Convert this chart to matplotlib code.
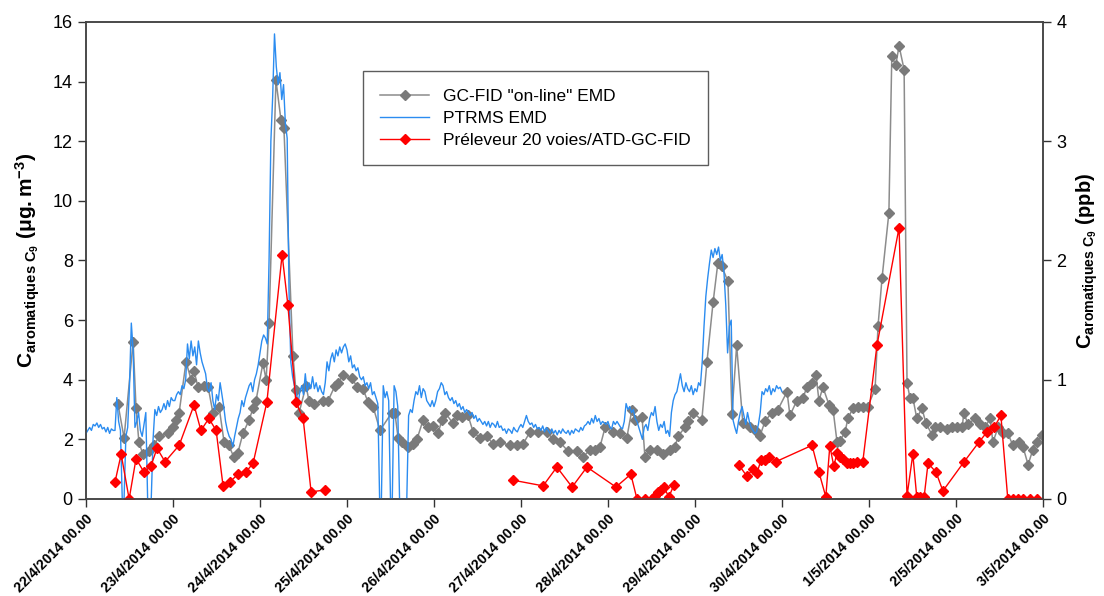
import numpy as np
import pandas as pd
from matplotlib import pyplot as plt

plt.rcParams['font.family'] = ['Liberation Sans', 'DejaVu Sans']
plt.rcParams['mathtext.fontset'] = 'custom'
plt.rcParams['mathtext.rm'] = 'Liberation Sans'
plt.rcParams['mathtext.bf'] = 'Liberation Sans:bold'
plt.rcParams['mathtext.it'] = 'Liberation Sans:italic'

# x axis: hours since 22/4/2014 00.00
tick_labels = ['22/4/2014 00.00', '23/4/2014 00.00', '24/4/2014 00.00', '25/4/2014 00.00',
               '26/4/2014 00.00', '27/4/2014 00.00', '28/4/2014 00.00', '29/4/2014 00.00',
               '30/4/2014 00.00', '1/5/2014 00.00', '2/5/2014 00.00', '3/5/2014 00.00']

# GC-FID "on-line" EMD (µg.m-3)
gc_hours = [8.8, 10.5, 13.0, 13.8, 14.6, 15.7, 17.4, 18.8, 20.1, 22.6, 24.0, 24.8, 25.7, 27.6, 29.0,
            29.8, 30.9, 32.6, 33.7, 35.0, 36.7, 38.1, 39.4, 40.8, 41.9, 43.3, 45.0, 46.1, 46.9, 48.8,
            49.7, 50.5, 52.4, 53.8, 54.6, 57.1, 57.9, 58.8, 60.7, 61.5, 62.9, 65.4, 66.8, 68.7, 69.5,
            70.9, 73.4, 74.8, 76.4, 77.8, 79.2, 81.1, 84.4, 85.2, 86.1, 87.2, 88.8, 90.2, 91.3, 93.0,
            94.3, 95.7, 97.1, 98.2, 99.0, 101.2, 102.3, 103.7, 105.4, 106.8, 108.7, 110.6, 112.3, 114.2,
            117.0, 118.9, 120.6, 122.5, 124.7, 127.2, 128.8, 130.8, 133.0, 135.4, 137.1, 139.0, 140.4,
            141.8, 143.2, 145.4, 147.3, 149.2, 150.6, 151.4, 153.4, 154.2, 155.6, 157.5, 159.2, 161.1,
            162.5, 163.3, 165.2, 166.1, 167.4, 169.9, 171.3, 173.0, 174.3, 175.4, 177.1, 178.2, 179.5,
            181.2, 183.2, 184.6, 185.9, 187.3, 189.2, 190.9, 193.4, 194.2, 196.1, 197.8, 198.9, 200.3,
            201.4, 202.2, 203.3, 205.0, 206.1, 207.2, 208.0, 209.4, 210.2, 211.6, 213.0, 214.3, 215.7,
            217.7, 218.5, 219.6, 221.5, 222.3, 223.4, 224.3, 225.7, 226.5, 227.3, 228.1, 229.2, 230.6,
            231.7, 233.4, 234.2, 235.6, 237.5, 238.9, 240.3, 241.7, 242.2, 243.3, 245.2, 246.6, 248.0,
            249.4, 250.2, 251.6, 253.0, 254.3, 255.7, 257.4, 258.5, 259.9, 261.2, 262.3, 263.7]
gc_values = [3.2, 2.05, 5.27, 3.05, 1.9, 1.5, 1.6, 1.8, 2.1, 2.2, 2.4, 2.65, 2.9, 4.6, 4.0,
             4.3, 3.75, 3.8, 3.75, 2.9, 3.1, 1.9, 1.8, 1.4, 1.55, 2.2, 2.65, 3.05, 3.3, 4.55,
             4.0, 5.9, 14.05, 12.7, 12.45, 4.8, 3.65, 2.9, 3.8, 3.3, 3.2, 3.3, 3.3, 3.8, 3.9,
             4.15, 4.05, 3.75, 3.7, 3.25, 3.1, 2.3, 2.9, 2.9, 2.05, 1.9, 1.75, 1.85, 2.0, 2.65,
             2.4, 2.45, 2.2, 2.65, 2.9, 2.55, 2.8, 2.75, 2.8, 2.25, 2.05, 2.1, 1.85, 1.9,
             1.8, 1.8, 1.85, 2.25, 2.25, 2.25, 2.0, 1.9, 1.6, 1.6, 1.4, 1.65, 1.65,
             1.75, 2.4, 2.25, 2.2, 2.05, 3.0, 2.65, 2.75, 1.4, 1.65, 1.65, 1.5, 1.65,
             1.75, 2.1, 2.4, 2.6, 2.9, 2.65, 4.6, 6.6, 7.9, 7.8, 7.3, 2.85, 5.15,
             2.55, 2.4, 2.3, 2.1, 2.6, 2.9, 3.0, 3.6, 2.8, 3.3, 3.4, 3.75, 3.9,
             4.15, 3.3, 3.75, 3.15, 3.0, 1.9, 1.95, 2.25, 2.7, 3.05, 3.1, 3.1, 3.1,
             3.7, 5.8, 7.4, 9.6, 14.85, 14.55, 15.2, 14.4, 3.9, 3.4, 3.4, 2.7, 3.05,
             2.55, 2.15, 2.4, 2.4, 2.35, 2.4, 2.4, 2.4, 2.9, 2.5, 2.7, 2.5, 2.4,
             2.7, 1.9, 2.4, 2.2, 2.2, 1.8, 1.9, 1.75, 1.15, 1.65, 1.9, 2.15]

# PTRMS EMD (µg.m-3), one value every 30 min from 22/4 00.00
ptrms_step_h = 0.5
ptrms_values = [
    2.2, 2.3, 2.4, 2.3, 2.5, 2.45, 2.55, 2.4, 2.5, 2.35,
    2.4, 2.25, 2.4, 2.2, 2.35, 2.3, 2.3, 3.4, 2.6, 2.3,
    0.0, 0.0, 2.1, 2.4, 3.8, 5.9, 5.0, 2.4, 2.6, 2.9,
    2.3, 2.1, 2.5, 2.9, 0.0, 0.0, 0.0, 2.0, 3.0, 2.8,
    3.1, 2.9, 3.0, 3.2, 3.0, 3.3, 3.1, 3.4, 3.3, 3.3,
    3.5, 3.6, 3.5, 3.8, 3.7, 4.0, 5.2, 4.7, 5.3, 4.8,
    5.1, 4.5, 5.3, 4.9, 4.6, 4.4, 4.2, 3.7, 3.6, 3.9,
    3.3, 3.0, 3.5, 3.3, 3.9, 3.5, 3.1, 2.6, 2.3, 2.1,
    2.0, 1.75, 2.1, 2.4, 2.7, 2.9, 3.3, 3.1, 3.4, 3.6,
    3.8, 3.9, 3.6, 4.0, 4.2, 4.5, 4.9, 5.3, 5.5, 5.4,
    5.2, 8.0, 12.0, 13.5, 15.6, 14.5, 13.9, 14.3, 13.4, 13.9,
    12.6, 12.1, 7.0, 4.6, 4.1, 3.8, 3.5, 3.2, 3.6, 3.8,
    3.5, 4.2, 3.6, 3.9, 3.7, 4.1, 3.7, 3.9, 3.6, 3.8,
    3.6, 3.5, 3.9, 4.6, 4.3, 4.7, 4.9, 4.6, 5.0, 4.8,
    5.1, 4.9, 5.1, 5.2, 5.0, 4.6, 4.8, 4.4, 4.5, 4.3,
    4.4, 4.1, 4.0, 4.1, 3.8, 3.9, 3.7, 3.9, 3.5, 3.6,
    3.4, 3.2, 0.0, 0.0, 3.8, 3.4, 3.6, 3.3, 0.0, 0.0,
    3.8, 3.6, 3.1, 0.0, 0.0, 0.0, 0.0, 0.0, 2.8, 3.0,
    2.9, 3.3, 3.6, 3.5, 3.8, 3.4, 3.7, 3.6, 3.3, 3.2,
    3.1, 3.3, 3.1, 3.3, 3.6, 3.7, 3.9, 3.8, 3.5, 3.6,
    3.4, 3.3, 3.4, 3.2, 3.3, 3.1, 3.2, 3.0, 3.1, 2.9,
    3.0, 2.9, 2.8, 2.9, 2.7, 2.8, 2.6, 2.7, 2.6, 2.5,
    2.6, 2.45, 2.6, 2.4, 2.55, 2.5, 2.4, 2.6, 2.4, 2.45,
    2.3, 2.35, 2.2, 2.35, 2.3, 2.2, 2.4, 2.3, 2.25, 2.4,
    2.5, 2.4, 2.6, 2.8, 2.6, 2.5, 2.55, 2.4, 2.5, 2.35,
    2.4, 2.3, 2.45, 2.25, 2.4, 2.3, 2.2, 2.35, 2.2, 2.3,
    2.15, 2.3, 2.2, 2.35, 2.25, 2.2, 2.3, 2.15, 2.3, 2.2,
    2.35, 2.3, 2.25, 2.4, 2.3, 2.45, 2.5, 2.6, 2.5, 2.7,
    2.55, 2.8, 2.6, 2.7, 2.5, 2.6, 2.55, 2.5, 2.6, 2.4,
    2.35, 2.6, 2.5, 2.6, 2.5, 2.4, 2.35, 2.6, 3.2, 3.0,
    3.1, 2.9, 3.0, 2.7, 2.6, 2.4, 2.2, 2.0, 2.4, 2.5,
    2.3, 2.7, 2.9, 2.8, 3.1, 2.6, 2.3, 2.5, 2.4, 2.6,
    2.2, 2.3, 2.1, 2.9, 3.3, 3.5, 3.6, 3.9, 4.2, 3.8,
    3.6, 3.9, 3.7, 3.6, 3.8, 3.5, 3.7, 3.6, 3.9, 3.8,
    4.6, 5.8, 6.8, 7.4, 7.9, 8.35, 8.1, 8.4, 8.2, 8.45,
    8.0, 8.2, 7.6, 6.5, 4.9, 5.8, 6.0, 2.65, 2.4, 2.2,
    2.6, 2.9, 3.1, 2.8, 2.5, 2.9, 2.6, 2.4, 2.3, 2.2,
    2.25, 2.5, 2.9, 3.6, 3.5, 3.7, 3.6, 3.8, 3.5, 3.7,
    3.6, 3.8, 3.7, 3.75, 3.6]

# Préleveur 20 voies/ATD-GC-FID (µg.m-3), NaN = no sample
sampler_hours = [8.0, 9.7, 11.9, 13.8, 16.0, 17.9, 19.6, 21.8, 25.7, 29.8, 31.7, 33.9, 35.9, 37.8,
                 39.7, 41.9, 44.1, 46.1, 49.9, 54.1, 55.7, 57.9, 59.9, 62.1, 65.9, 90.0,
                 117.8, 126.1, 129.9, 134.1, 138.2, 146.2, 150.3, 152.0, 154.2, 156.1, 157.0,
                 157.8, 158.6, 159.4, 160.8, 162.2, 170.0,
                 180.1, 182.3, 184.0, 185.1, 186.2, 187.3, 188.4, 190.3, 200.3, 202.2, 204.1,
                 205.2, 206.3, 207.2, 208.0, 208.8, 209.9, 210.8, 211.6, 212.7, 214.3, 218.2,
                 224.3, 226.5, 228.1, 229.2, 230.1, 231.2, 232.3, 234.5, 236.4, 242.2, 246.3,
                 248.6, 250.5, 252.4, 254.3, 255.7, 257.1, 258.5, 260.4, 262.3]
sampler_values = [0.57, 1.5, 0.0, 1.35, 0.9, 1.1, 1.7, 1.25, 1.8, 3.15, 2.3, 2.7, 2.3, 0.45,
                  0.57, 0.83, 0.9, 1.2, 3.25, 8.2, 6.5, 3.25, 2.7, 0.24, 0.3, np.nan,
                  0.63, 0.44, 1.07, 0.4, 1.07, 0.4, 0.83, 0.0, 0.0, 0.0, 0.1,
                  0.24, 0.3, 0.4, 0.07, 0.47, np.nan,
                  1.14, 0.77, 1.0, 0.87, 1.3, 1.3, 1.4, 1.25, 1.8, 0.9, 0.07,
                  1.78, 1.1, 1.55, 1.4, 1.35, 1.2, 1.2, 1.2, 1.25, 1.25, 5.15,
                  9.1, 0.1, 1.5, 0.05, 0.05, 0.05, 1.2, 0.9, 0.27, 1.24, 1.9,
                  2.25, 2.4, 2.8, 0.0, 0.0, 0.0, 0.0, 0.0, 0.0]

ptrms_hours = np.arange(len(ptrms_values)) * ptrms_step_h

fig = plt.figure(figsize=(11.04, 5.96), dpi=100)
ax = fig.add_axes([0.0779, 0.1628, 0.8668, 0.8003])

ax.plot(gc_hours, gc_values, color='#8c8c8c', lw=1.1, marker='D', ms=5,
        mfc='#7a7a7a', mec='#7a7a7a', label='GC-FID "on-line" EMD', zorder=2)
ax.plot(ptrms_hours, ptrms_values, color='#2b8cf0', lw=1.0, label='PTRMS EMD', zorder=3)
ax.plot(sampler_hours, sampler_values, color='#ff0000', lw=1.0, marker='D', ms=5.5,
        mfc='#ff0000', mec='#ff0000', label='Préleveur 20 voies/ATD-GC-FID', zorder=4)

ax.set_xlim(0, 24 * (len(tick_labels) - 1))
ax.set_ylim(0, 16)
ax.set_xticks(np.arange(len(tick_labels)) * 24)
ax.set_xticklabels(tick_labels, rotation=45, ha='right', rotation_mode='anchor',
                   fontsize=10.3, fontweight='bold')
ax.set_yticks(np.arange(0, 17, 2))
ax.tick_params(axis='y', labelsize=13, length=6, width=1, colors='#333333', direction='out')
ax.tick_params(axis='x', length=6, width=1, colors='#333333', direction='out', pad=3)
for lab in ax.get_xticklabels() + ax.get_yticklabels():
    lab.set_color('black')

ax2 = ax.twinx()
ax2.set_ylim(0, 4)
ax2.set_yticks([0, 1, 2, 3, 4])
ax2.tick_params(axis='y', labelsize=13, length=6, width=1, colors='#333333', direction='out')
for lab in ax2.get_yticklabels():
    lab.set_color('black')

for a in (ax, ax2):
    for s in a.spines.values():
        s.set_color('#444444')
        s.set_linewidth(1.1)

ax.set_ylabel(r'$\mathbf{C_{aromatiques\ C_{9}}}$ $\mathbf{(\mu g.m^{-3})}$', fontsize=15, labelpad=8)
ax2.set_ylabel(r'$\mathbf{C_{aromatiques\ C_{9}}}$ $\mathbf{(ppb)}$', fontsize=14.5,
               rotation=90, labelpad=6)

leg = ax.legend(loc='upper left', bbox_to_anchor=(0.2896, 0.897), fontsize=12.5,
                frameon=True, fancybox=False, edgecolor='#333333', borderpad=1.0,
                handlelength=2.8, labelspacing=0.4, borderaxespad=0)
leg.get_frame().set_linewidth(1.0)
leg.set_zorder(10)

plt.savefig('out.png', dpi=100)
